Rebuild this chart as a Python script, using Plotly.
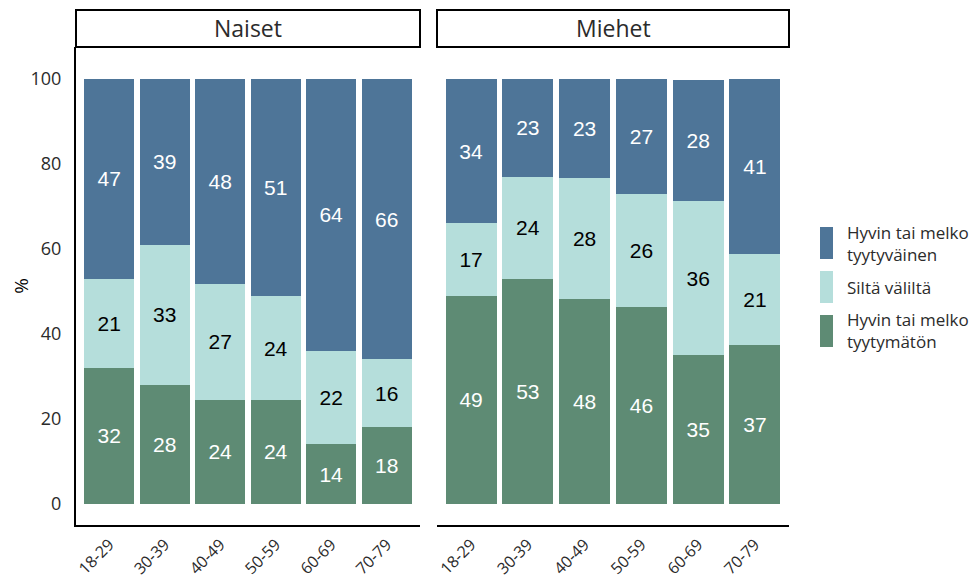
import plotly.graph_objects as go

ages = ["18-29", "30-39", "40-49", "50-59", "60-69", "70-79"]
panels = ["Naiset", "Miehet"]
series = ["Hyvin tai melko tyytymätön", "Siltä väliltä", "Hyvin tai melko tyytyväinen"]
legend_labels = ["Hyvin tai melko<br>tyytyväinen", "Siltä väliltä", "Hyvin tai melko<br>tyytymätön"]

# values (%); labels show them rounded
naiset_tyytymaton = [32, 28, 24.4, 24.4, 14, 18]
naiset_siltavalilta = [21, 33, 27.4, 24.4, 22, 16]
naiset_tyytyvainen = [47, 39, 48.2, 51.2, 64, 66]

miehet_tyytymaton = [49, 53, 48.2, 46.4, 34.9, 37.3]
miehet_siltavalilta = [17, 24, 28.4, 26.4, 36.4, 21.4]
miehet_tyytyvainen = [34, 23, 23.4, 27.2, 28.4, 41.3]

colors = ["#5E8B74", "#B5DEDB", "#4E7598"]
text_colors = ["white", "black", "white"]

data = {
    "Naiset": [naiset_tyytymaton, naiset_siltavalilta, naiset_tyytyvainen],
    "Miehet": [miehet_tyytymaton, miehet_siltavalilta, miehet_tyytyvainen],
}

# page is offset by the 8px body margin
W, H, OFF = 969, 573, 8
def px(p):
    return (p - OFF) / W
def py(p):
    return 1 - (p - OFF) / H

TICKFONT = "Open Sans, Lato, sans-serif"
LABFONT = "Liberation Sans, Arial, sans-serif"
TXT = "#2b2b2b"

fig = go.Figure()
for pi, panel in enumerate(panels):
    xa = "x" if pi == 0 else "x2"
    ya = "y" if pi == 0 else "y2"
    for si, name in enumerate(series):
        vals = data[panel][si]
        fig.add_trace(go.Bar(
            x=ages, y=vals, name=name, xaxis=xa, yaxis=ya,
            marker=dict(color=colors[si], line=dict(width=0)),
            texttemplate="%{y:.0f}", textposition="inside",
            insidetextanchor="middle", textangle=0,
            textfont=dict(family=LABFONT, size=21, color=text_colors[si]),
            showlegend=False, hoverinfo="skip",
        ))

ydom = [py(525), py(47)]
xd1 = [px(76), px(420)]
xd2 = [px(437), px(789)]

common_x = dict(type="category", range=[-0.6, 5.6], showgrid=False, zeroline=False,
                showline=True, linecolor="black", linewidth=2, ticks="",
                tickangle=-45, ticklabelstandoff=2,
                tickfont=dict(family=TICKFONT, size=16, color=TXT),
                automargin=False, fixedrange=True)
fig.update_layout(
    width=W, height=H,
    margin=dict(l=0, r=0, t=0, b=0),
    paper_bgcolor="white", plot_bgcolor="white",
    barmode="stack", bargap=0.1,
    xaxis=dict(domain=xd1, anchor="y", **common_x),
    xaxis2=dict(domain=xd2, anchor="y2", **common_x),
    yaxis=dict(domain=ydom, anchor="x", range=[-5, 107.5], showgrid=False, zeroline=False,
               showline=True, linecolor="black", linewidth=2, ticks="",
               tickvals=[0, 20, 40, 60, 80, 100], ticklabelstandoff=9,
               tickfont=dict(family=TICKFONT, size=18, color=TXT),
               title=dict(text="%", standoff=6, font=dict(family=TICKFONT, size=19, color="black")),
               automargin=False),
    yaxis2=dict(domain=ydom, anchor="x2", range=[-5, 107.5], showgrid=False, zeroline=False,
                showline=False, showticklabels=False, ticks="", automargin=False),
    showlegend=False,
)

shapes = []
annotations = []
# facet strips
for panel, xd in zip(panels, [xd1, xd2]):
    shapes.append(dict(type="rect", xref="paper", yref="paper", x0=xd[0], x1=xd[1],
                       y0=py(47), y1=py(10), line=dict(color="black", width=2), fillcolor="white"))
    annotations.append(dict(xref="paper", yref="paper", x=(xd[0]+xd[1])/2, y=(py(47)+py(10))/2,
                            text=panel, showarrow=False, xanchor="center", yanchor="middle",
                            font=dict(family=TICKFONT, size=23, color=TXT)))

# legend (ggplot-style keys)
legend_colors = [colors[2], colors[1], colors[0]]
key_y = [(227, 259), (271, 303), (315, 347)]
for lab, col, (ya0, ya1) in zip(legend_labels, legend_colors, key_y):
    shapes.append(dict(type="rect", xref="paper", yref="paper", x0=px(820), x1=px(833),
                       y0=py(ya1), y1=py(ya0), line=dict(width=0), fillcolor=col))
    annotations.append(dict(xref="paper", yref="paper", x=px(845), y=py((ya0+ya1)/2),
                            text=lab, showarrow=False, xanchor="left", yanchor="middle", align="left",
                            font=dict(family=TICKFONT, size=17, color=TXT)))

fig.update_layout(shapes=shapes, annotations=annotations)
fig.write_html("out.html")
